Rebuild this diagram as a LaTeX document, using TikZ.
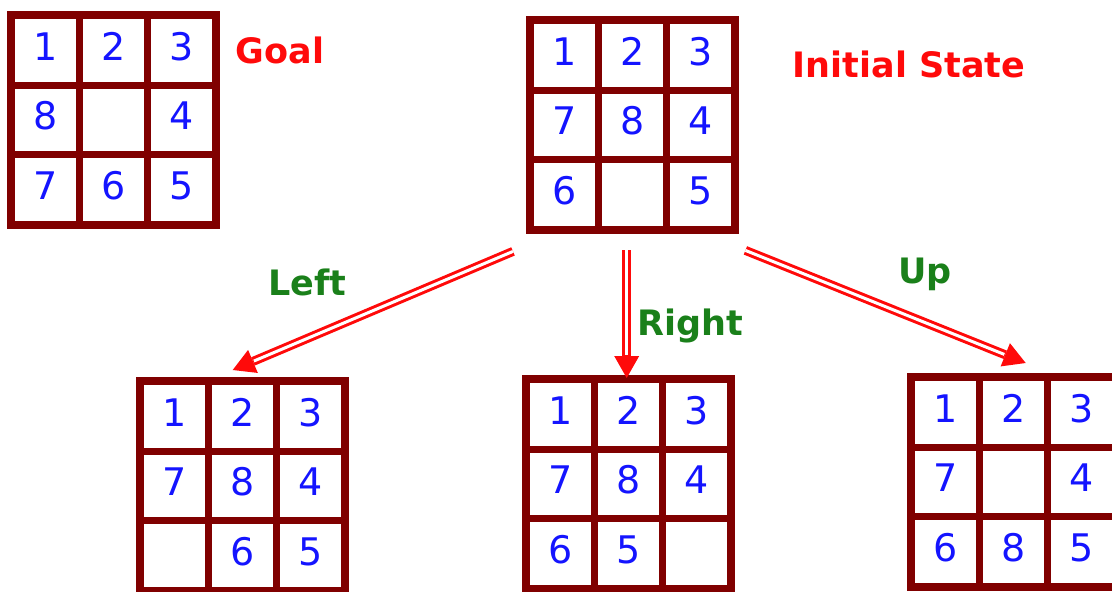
\documentclass[tikz,border=0pt]{standalone}
\usepackage{fontspec}
\setmainfont{DejaVu Sans}
\usepackage{tikz}
\usetikzlibrary{positioning,arrows.meta}
\definecolor{granate}{HTML}{800000}
\definecolor{azul}{HTML}{1414FF}
\definecolor{rojo}{HTML}{FF0A0A}
\definecolor{verde}{HTML}{1A801A}

% one 3x3 board: name, north west corner, nine entries
\newcommand{\puzzle}[3]{%
  \node[tablero] (#1) at (#2) {};
  \foreach \v [count=\k from 0] in {#3} {
    \pgfmathtruncatemacro\col{mod(\k,3)}
    \pgfmathtruncatemacro\fil{div(\k,3)}
    \node[casilla] (#1-\k) at ([shift={(38.5+68*\col,39.5+69.5*\fil)}]#1.north west) {\v};
  }%
}

\begin{document}
\begin{tikzpicture}[
  x=1pt, y=-1pt,
  tablero/.style={rectangle, fill=granate, anchor=north west, inner sep=0pt, minimum width=213pt, minimum height=218pt},
  casilla/.style={rectangle, fill=white, inner sep=0pt, minimum width=61pt, minimum height=62.5pt, text=azul, font=\fontsize{38}{40}\selectfont, text height=28pt, text depth=9pt},
  titulo/.style={anchor=base, text=rojo, font=\fontsize{35}{40}\selectfont\bfseries},
  mov/.style={anchor=base, text=verde, font=\fontsize{35}{40}\selectfont\bfseries},
  flecha/.style={draw=rojo, line width=9pt, -{Triangle[length=22pt, width=25pt, line width=0pt]},
    postaction={draw=white, line width=3pt, shorten >=23pt, -}}
]
\useasboundingbox (0,0) rectangle (1112,592);

\puzzle{goal}{7,11}{1,2,3,8,{},4,7,6,5}
\puzzle{init}{526,16}{1,2,3,7,8,4,6,{},5}
\puzzle{left}{136,377}{1,2,3,7,8,4,{},6,5}
\puzzle{mid}{522,375}{1,2,3,7,8,4,6,5,{}}
\puzzle{right}{907,373}{1,2,3,7,{},4,6,8,5}

\node[titulo] (tgoal) at (280,63) {Goal};
\node[titulo] (tinit) at (909,77) {Initial State};

\draw[flecha] ([shift={(-13,17)}]init.south west) -- ([shift={(-10,-7)}]left.north);
\draw[flecha] ([shift={(-6,16)}]init.south) -- ([shift={(-2,3)}]mid.north);
\draw[flecha] ([shift={(6,16)}]init.south east) -- ([shift={(12,-10)}]right.north);

\node[mov] (mleft) at (307,295) {Left};
\node[mov] (mright) at (690,335) {Right};
\node[mov] (mup) at (925,283) {Up};
\end{tikzpicture}
\end{document}
